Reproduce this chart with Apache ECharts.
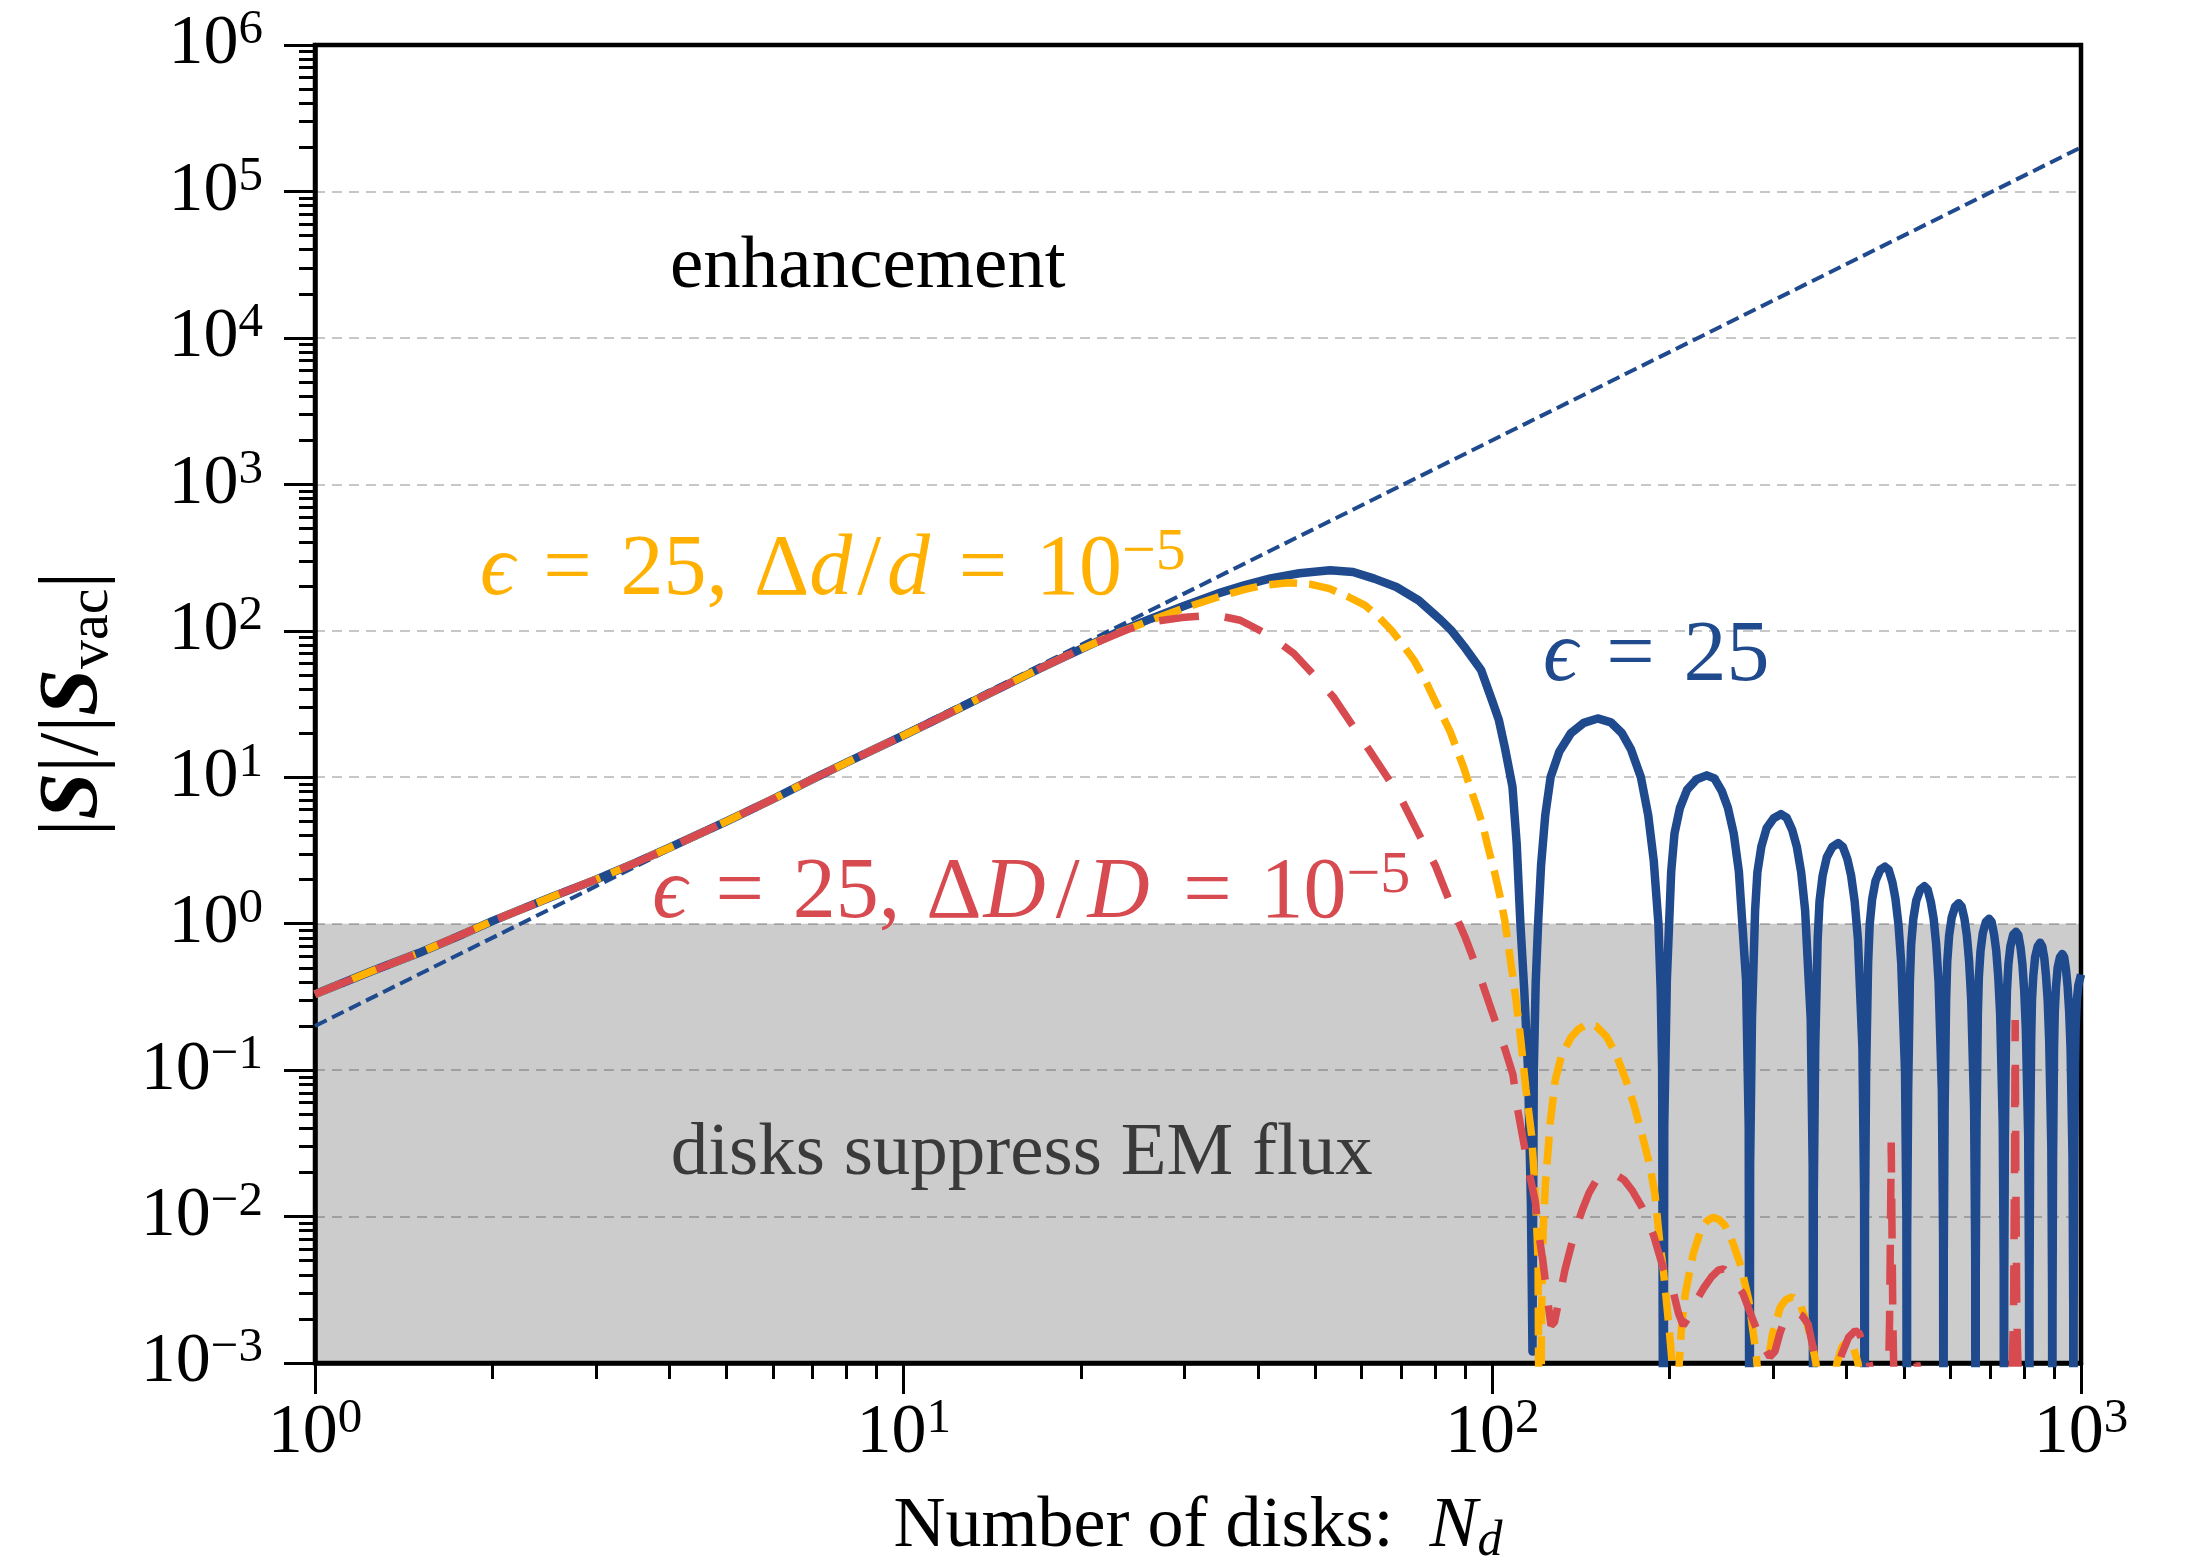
<!DOCTYPE html>
<html>
<head>
<meta charset="utf-8">
<script src="https://cdn.jsdelivr.net/npm/echarts@6/dist/echarts.min.js"></script>
<style>html,body{margin:0;padding:0;background:#fff}#c{width:2187px;height:1562px}</style>
</head>
<body>
<div id="c"></div>
<script>
// ---------- data ----------
const xTicks = [1, 10, 100, 1000];
const yTicks = [1e-3, 1e-2, 1e-1, 1, 10, 100, 1e3, 1e4, 1e5, 1e6];

// rising part shared by all three curves
const commonRise = [[1,0.33],[1.25,0.475],[1.5,0.63],[1.75,0.82],[2,1.04],[2.5,1.5],[3,2.0],[3.5,2.6],[4,3.3],[5,5.0],[6,7.1],[7,9.7],[8,12.6],[9,15.8],[10,19.3],[12,27.6],[14,37.5],[17,55],[20,75]];

// eps = 25
const blueTail = [[23,97],[26.3,121],[30,148],[34.2,180],[38,205],[42,228],[47,247],[53,259],[58,252],[63,227],[68.7,199],[75,161],[81.8,118],[85.3,100],[90,76],[95.7,54],[100,33],[102.6,24.5],[105,16],[108.2,8.6],[110,3.5],[111.6,1.0],[113.3,0.35],[115,0.1],[116.3,0.012],[117,0.0012],
[117.6,0.1],[118.5,0.4],[119.6,1.0],[121,2.5],[123,5.5],[125.6,10],[130,15],[136,20],[143,23.5],[151,25.2],[159,23.7],[166,20],[172,15.5],[178.8,10],[184,5.5],[188,2.7],[191.5,1.0],[193.2,0.35],[194.3,0.1],[195.3,1e-5],
[195.9,0.041],[197.9,0.41],[201.3,2.27],[203.9,4.12],[208.3,6.18],[214.3,8.24],[222.5,9.7],[231.3,10.3],[238.5,9.8],[245.4,8.03],[251.3,6.18],[257.1,4.12],[262.3,2.27],[269.8,0.41],[272.6,0.041],[273.5,1e-5],
[274.1,0.0224],[276.1,0.224],[279.5,1.23],[282.0,2.24],[286.4,3.36],[292.3,4.48],[300.6,5.25],[309.2,5.6],[316.1,5.3],[323.1,4.37],[329.0,3.36],[334.7,2.24],[339.9,1.23],[347.4,0.224],[350.1,0.0224],[351,1e-5],
[351.6,0.0142],[353.6,0.142],[357.0,0.78],[359.6,1.42],[364.0,2.13],[370.0,2.84],[377.8,3.33],[386.9,3.55],[393.9,3.35],[400.9,2.77],[406.9,2.13],[412.6,1.42],[417.9,0.78],[425.3,0.142],[428.1,0.0142],[429,1e-5],
[429.6,0.0098],[431.5,0.098],[434.9,0.54],[437.5,0.98],[441.8,1.47],[447.7,1.96],[456,2.33],[464.4,2.45],[471.4,2.33],[478.3,1.91],[484.1,1.47],[489.8,0.98],[495.0,0.54],[502.4,0.098],[505.1,0.0098],[506,1e-5],
[506.6,0.0072],[508.6,0.072],[512.0,0.40],[514.6,0.72],[519.0,1.08],[525.0,1.44],[533.3,1.71],[541.9,1.8],[548.9,1.71],[555.9,1.40],[561.9,1.08],[567.6,0.72],[572.9,0.40],[580.3,0.072],[583.1,0.0072],[584,1e-5],
[584.6,0.0055],[586.6,0.055],[590.0,0.30],[592.6,0.55],[597.0,0.83],[603.0,1.10],[611.3,1.31],[619.9,1.38],[626.9,1.31],[633.9,1.08],[639.9,0.83],[645.6,0.55],[650.9,0.30],[658.3,0.055],[661.1,0.0055],[662,1e-5],
[662.6,0.0043],[664.6,0.043],[668.0,0.24],[670.6,0.43],[675.0,0.65],[681.0,0.86],[689.3,1.03],[697.9,1.08],[704.9,1.03],[711.9,0.84],[717.9,0.65],[723.6,0.43],[728.9,0.24],[736.3,0.043],[739.1,0.0043],[740,1e-5],
[740.6,0.0035],[742.5,0.035],[745.9,0.19],[748.5,0.35],[752.8,0.53],[758.7,0.70],[767,0.84],[775.4,0.88],[782.4,0.84],[789.3,0.69],[795.1,0.53],[800.8,0.35],[806.0,0.19],[813.4,0.035],[816.1,0.0035],[817,1e-5],
[817.6,0.003],[819.5,0.03],[822.9,0.16],[825.5,0.30],[829.8,0.44],[835.7,0.59],[844,0.70],[852.4,0.74],[859.4,0.70],[866.3,0.58],[872.1,0.44],[877.8,0.30],[883.0,0.16],[890.4,0.03],[893.1,0.003],[894,1e-5],
[894.6,0.0025],[896.5,0.025],[899.9,0.14],[902.5,0.25],[906.8,0.37],[912.7,0.50],[921,0.59],[929.4,0.62],[936.4,0.59],[943.3,0.48],[949.1,0.37],[954.8,0.25],[960.0,0.14],[967.4,0.025],[970.1,0.0025],[971,1e-5],
[971.6,0.002],[973.5,0.02],[976.9,0.11],[979.5,0.2],[983.8,0.3],[989.7,0.38],[1000,0.45]];

// eps = 25, Delta d / d = 1e-5
const orangeTail = [[23,96],[26.3,118],[30,143],[34.2,170],[38,192],[40.7,204],[45,213],[49,208],[52.9,194],[57,170],[60.8,149],[64,125],[67.5,100],[70.5,80],[73.6,63],[76.9,46],[80,33],[84.8,20.5],[89.3,11.8],[91.7,8.5],[94.1,6.3],[96.5,4.6],[98.2,3.4],[101,2.2],[103.2,1.5],[105,1.05],[107.3,0.57],[109.5,0.32],[111.6,0.17],[114,0.075],[116.6,0.036],[118.5,0.013],[119.6,0.005],[120.5,1e-5],
[121.2,0.002],[122,0.008],[123.1,0.017],[125.5,0.045],[127.9,0.085],[131,0.125],[136,0.167],[140,0.19],[144.5,0.205],[150,0.2],[156.2,0.17],[162,0.13],[168.7,0.085],[174,0.058],[179.4,0.037],[185.3,0.022],[189,0.014],[192.4,0.0068],[195,0.0045],[197,0.003],[200,0.0016],[203,0.0008],[205,1e-5],
[207,0.0008],[209.6,0.00175],[212.8,0.003],[219.5,0.0056],[226.3,0.0082],[232,0.0094],[237.2,0.0099],[243,0.0095],[248.4,0.0087],[256.3,0.0066],[264.3,0.0046],[272.6,0.0027],[276.7,0.00175],[281,0.0011],[285,0.0005],[288,1e-5],
[291,0.0006],[295,0.0011],[299,0.00157],[308.4,0.0024],[315,0.0027],[323.2,0.00283],[333.4,0.00254],[343.8,0.00175],[350,0.0013],[354.6,0.001],[360,0.0005],[366,1e-5],
[375,0.0005],[385,0.001],[393,0.0013],[401,0.0014],[410,0.0013],[418,0.001],[425,0.0006],[432,1e-5]];

// eps = 25, Delta D / D = 1e-5
const redTail = [[22,88],[24,102],[26.3,115],[29.7,123],[32,126],[34.2,127],[37.3,118],[40,102],[42.1,91],[46,70],[50.2,48],[53.8,35],[57.7,23],[61.8,15.3],[66.3,10],[69.9,7.2],[75,4.1],[80,2.5],[85,1.35],[90,0.8],[95,0.45],[101,0.22],[105,0.14],[108.4,0.093],[110.3,0.055],[112.9,0.033],[115.5,0.02],[118.3,0.0126],[120,0.0075],[122,0.0048],[124,0.0028],[125.8,0.0018],
[127.5,0.0019],[129.8,0.0027],[132.8,0.0043],[138,0.0078],[142.4,0.0113],[146,0.0145],[150.3,0.0178],[154,0.019],[158.6,0.0193],[163,0.019],[167.4,0.0178],[173,0.015],[179.5,0.0116],[184,0.0092],[188,0.0074],[194,0.0048],[198,0.0038],[203.2,0.003],[207,0.0022],[211,0.0018],
[214.5,0.002],[220,0.0025],[228,0.0032],[236,0.0039],[242,0.0043],[247,0.0044],[252,0.0041],[259,0.0035],[266.4,0.003],[271,0.0025],[276.7,0.002],[283,0.0016],[290,0.00127],[296,0.0011],
[302,0.0012],[308,0.0016],[313.2,0.00195],[320,0.0021],[328,0.00222],[336,0.0021],[343.8,0.00185],[351.8,0.0012],[357,0.0008],[363,0.0006],[372,0.0006],[383,0.0008],[392,0.00114],[403,0.0015],[413.6,0.00166],[420,0.0016],[428,0.0013],[436.6,0.001],[445,0.0007],[455,0.0005],[465,0.0004],
[470,0.0005],[473,0.002],[475,0.012],[476,0.032],[477,0.012],[479,0.002],[482,0.0005],[500,0.0005],[520,0.0008],[526,0.001],[532,0.0008],[560,0.0004],[620,0.0003],[700,0.0003],[760,0.0005],
[768,0.002],[771,0.02],[773,0.22],[775,0.02],[778,0.002],[785,0.0005],[850,0.0003],[1000,0.0003]];

// thin dashed asymptote (straight line on log-log axes)
const asymptote = [[1,0.2],[1000,2e5]];

// shaded suppression band (y range)
const suppressBand = [1e-3, 1];

// text annotations: anchor = [N, value] at left / vertical middle of the text
const SP = '\u2004';
const annotations = [
  {at:[4.01, 30300], kind:'plain', text:'enhancement', color:'#000000'},
  {at:[4.02, 0.0267], kind:'plain', text:'disks suppress EM flux', color:'#3a3a3a'},
  {at:[1.906, 255], kind:'math', text:'{m|ϵ}{r|' + SP + '=' + SP + '25,}{g|Δ}{m|d}{sl|/}{m|d}{r|' + SP + '=' + SP + '10}{s|−5}', color:'#ffb000'},
  {at:[3.74, 1.59], kind:'math', text:'{m|ϵ}{r|' + SP + '=' + SP + '25,}{g|Δ}{M|D}{sl|/}{M|D}{r|' + SP + '=' + SP + '10}{s|−5}', color:'#d64a50'},
  {at:[121.9, 66], kind:'math', text:'{m|ϵ}{r|' + SP + '=' + SP + '25}', color:'#1f4a8e'}
];

// ---------- chart ----------
const BLUE = '#1f4a8e', ORANGE = '#ffb000', RED = '#d64a50';
const SERIF = "'Liberation Serif', 'DejaVu Serif', serif";

const minorX = [];
for (let e = 0; e < 3; e++) for (let k = 2; k <= 9; k++) minorX.push(k * Math.pow(10, e));
const minorY = [];
for (let e = -3; e < 6; e++) for (let k = 2; k <= 9; k++) minorY.push(+(k * Math.pow(10, e)).toPrecision(3));

function powLabel(v) {
  const e = Math.round(Math.log10(v));
  return '{b|10}{s|' + (e < 0 ? '\u2212' + (-e) : String(e)) + '}';
}
const tickRich = {
  b: {fontFamily: SERIF, fontSize: 70, lineHeight: 78, color: '#000'},
  s: {fontFamily: SERIF, fontSize: 49, lineHeight: 49, verticalAlign: 'top', color: '#000'}
};

const chart = echarts.init(document.getElementById('c'), null, {renderer: 'canvas'});

const option = {
  backgroundColor: '#ffffff',
  animation: false,
  grid: {left: 315, right: 106, top: 45, bottom: 199, show: true, borderColor: '#000', borderWidth: 4.5,
         backgroundColor: 'transparent', containLabel: false, outerBoundsMode: 'none'},
  xAxis: [
    {
      type: 'log', logBase: 10, min: 1, max: 1000, position: 'bottom', gridIndex: 0,
      axisLine: {show: true, onZero: false, lineStyle: {color: '#000', width: 4.5}},
      axisTick: {show: true, length: 31, lineStyle: {color: '#000', width: 3}, customValues: xTicks},
      axisLabel: {margin: 32, formatter: powLabel, rich: tickRich, customValues: xTicks},
      splitLine: {show: false},
      name: '{t|Number of disks:  }{i|N}{u|d}',
      nameLocation: 'middle', nameGap: 124,
      nameTextStyle: {
        rich: {
          t: {fontFamily: SERIF, fontSize: 72, lineHeight: 80, color: '#000'},
          i: {fontFamily: SERIF, fontSize: 72, lineHeight: 80, fontStyle: 'italic', color: '#000'},
          u: {fontFamily: SERIF, fontSize: 50, lineHeight: 50, fontStyle: 'italic', verticalAlign: 'bottom', color: '#000'}
        }
      }
    },
    {
      type: 'log', logBase: 10, min: 1, max: 1000, position: 'bottom', gridIndex: 0, offset: 0,
      axisLine: {show: false},
      axisTick: {show: true, length: 16, lineStyle: {color: '#000', width: 3}, customValues: minorX},
      axisLabel: {show: false},
      splitLine: {show: false}
    }
  ],
  yAxis: [
    {
      type: 'log', logBase: 10, min: 1e-3, max: 1e6, position: 'left', gridIndex: 0,
      axisLine: {show: true, onZero: false, lineStyle: {color: '#000', width: 4.5}},
      axisTick: {show: true, length: 31, lineStyle: {color: '#000', width: 3}, customValues: yTicks},
      axisLabel: {margin: 52, formatter: powLabel, rich: tickRich, customValues: yTicks},
      splitLine: {show: true, lineStyle: {color: 'rgba(0,0,0,0.22)', width: 2, type: [10, 7]}},
      name: '{n||}{b|S}{n||/|}{b|S}{u|vac}{n||}',
      nameLocation: 'middle', nameGap: 194, nameRotate: 90,
      nameTextStyle: {
        rich: {
          n: {fontFamily: SERIF, fontSize: 84, lineHeight: 92, color: '#000'},
          b: {fontFamily: SERIF, fontSize: 84, lineHeight: 92, fontWeight: 'bold', fontStyle: 'italic', color: '#000'},
          u: {fontFamily: SERIF, fontSize: 58, lineHeight: 58, verticalAlign: 'bottom', color: '#000'}
        }
      }
    },
    {
      type: 'log', logBase: 10, min: 1e-3, max: 1e6, position: 'left', gridIndex: 0, offset: 0,
      axisLine: {show: false},
      axisTick: {show: true, length: 16, lineStyle: {color: '#000', width: 3}, customValues: minorY},
      axisLabel: {show: false},
      splitLine: {show: false}
    }
  ],
  series: [
    {
      name: 'band', type: 'line', data: [], xAxisIndex: 0, yAxisIndex: 0,
      markArea: {
        silent: true, z: -1,
        itemStyle: {color: '#cccccc', borderWidth: 0},
        data: [[{xAxis: 1, yAxis: suppressBand[0]}, {xAxis: 1000, yAxis: suppressBand[1]}]]
      }
    },
    {
      name: 'asymptote', type: 'line', data: asymptote, xAxisIndex: 0, yAxisIndex: 0,
      showSymbol: false, symbol: 'none', clip: true,
      lineStyle: {color: BLUE, width: 4, type: [13, 6]}
    },
    {
      name: 'eps25', type: 'line', data: commonRise.concat(blueTail), xAxisIndex: 0, yAxisIndex: 0,
      showSymbol: false, symbol: 'none', clip: true,
      lineStyle: {color: BLUE, width: 8.5, join: 'round'}
    },
    {
      name: 'dd', type: 'line', data: commonRise.concat(orangeTail), xAxisIndex: 0, yAxisIndex: 0,
      showSymbol: false, symbol: 'none', clip: true,
      lineStyle: {color: ORANGE, width: 7.5, type: [28, 12]}
    },
    {
      name: 'DD', type: 'line', data: commonRise.concat(redTail), xAxisIndex: 0, yAxisIndex: 0,
      showSymbol: false, symbol: 'none', clip: true,
      lineStyle: {color: RED, width: 7.5, type: [40, 26]}
    }
  ]
};
chart.setOption(option);

// place annotations at data coordinates
const graphics = annotations.map(a => {
  const p = chart.convertToPixel({xAxisIndex: 0, yAxisIndex: 0}, a.at);
  if (a.kind === 'plain') {
    return {
      type: 'text', x: p[0], y: p[1], z: 10,
      style: {text: a.text, fill: a.color, fontFamily: SERIF, fontSize: 75,
              align: 'left', verticalAlign: 'middle', textAlign: 'left', textVerticalAlign: 'middle'}
    };
  }
  const base = {fill: a.color, fontFamily: SERIF, fontSize: 86, lineHeight: 96};
  return {
    type: 'text', x: p[0], y: p[1], z: 10,
    style: {
      text: a.text, fill: a.color, fontFamily: SERIF, fontSize: 86,
      align: 'left', verticalAlign: 'middle', textAlign: 'left', textVerticalAlign: 'middle',
      rich: {
        m: Object.assign({}, base, {fontStyle: 'italic'}),
        M: Object.assign({}, base, {fontStyle: 'italic', padding: [0, 5, 0, 2]}),
        r: base,
        g: Object.assign({}, base, {padding: [0, 0, 0, 26]}),
        sl: Object.assign({}, base, {padding: [0, 6, 0, 5]}),
        s: {fill: a.color, fontFamily: SERIF, fontSize: 60, lineHeight: 60, verticalAlign: 'top'}
      }
    }
  };
});
chart.setOption({graphic: graphics});
</script>
</body>
</html>
